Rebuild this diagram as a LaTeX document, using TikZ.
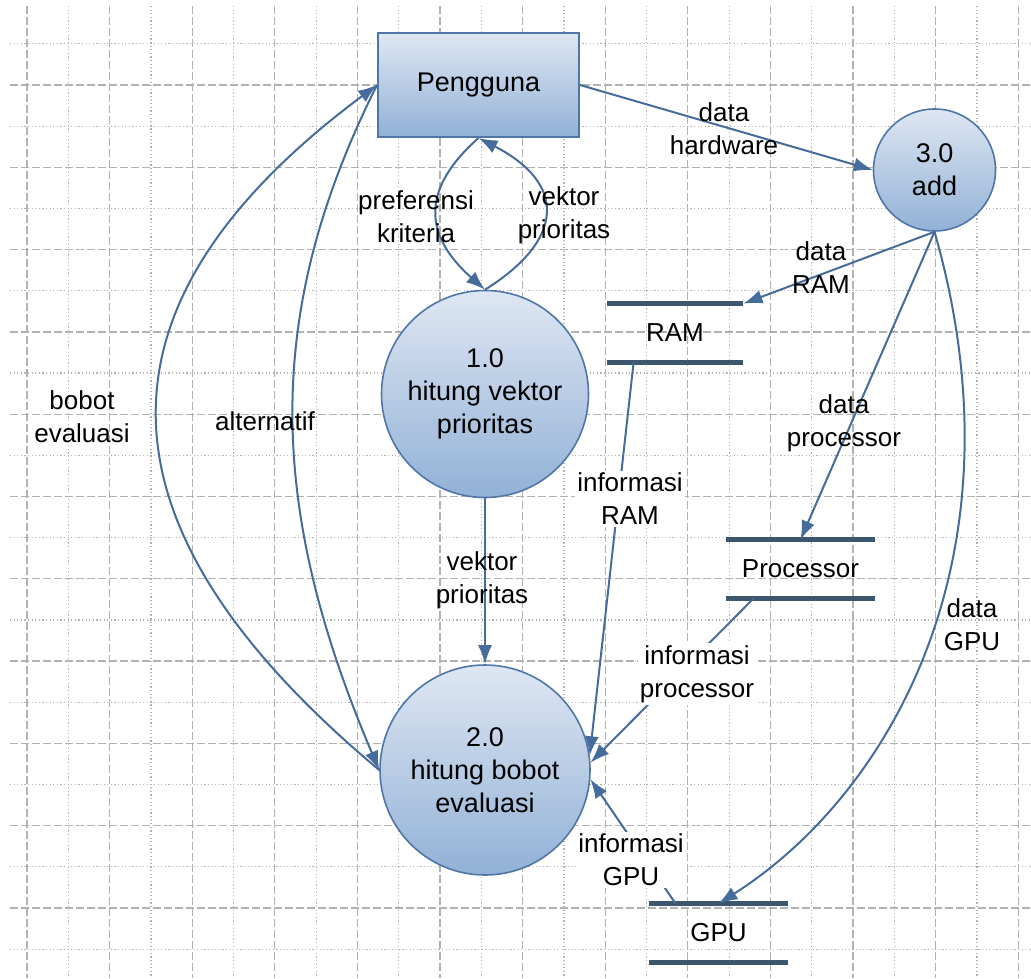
\documentclass[tikz,border=0pt]{standalone}
\usepackage{fontspec}
\setmainfont{Liberation Sans}
\usetikzlibrary{arrows.meta,calc}
\definecolor{gridc}{RGB}{178,178,178}
\definecolor{flowc}{RGB}{70,108,156}
\definecolor{storec}{RGB}{60,86,110}
\definecolor{bordc}{RGB}{80,118,168}
\definecolor{filltop}{RGB}{222,231,243}
\definecolor{fillbot}{RGB}{146,177,214}
\begin{document}
\begin{tikzpicture}[x=0.5pt,y=-0.5pt,
  every node/.style={font=\fontsize{13}{16.5}\selectfont, align=center, text=black},
  major/.style={draw=gridc, line width=0.65pt, dash pattern=on 4pt off 1.5pt},
  minor/.style={draw=gridc, line width=0.6pt, dash pattern=on 0.6pt off 1.2pt},
  flow/.style={draw=flowc, line width=1pt, -{Latex[length=9.5pt,width=7pt]}},
  proc/.style={circle, draw=bordc, line width=0.8pt, top color=filltop, bottom color=fillbot, inner sep=0pt, font=\fontsize{13.5}{16.5}\selectfont},
  ent/.style={rectangle, draw=bordc, line width=1pt, top color=filltop, bottom color=fillbot, minimum width=100.5pt, minimum height=52pt, font=\fontsize{13.5}{16.5}\selectfont},
  store/.style={minimum width=#1, minimum height=29pt, inner sep=0pt},
  storeline/.style={draw=storec, line width=2.5pt},
  lbl/.style={inner sep=1pt},
  wlbl/.style={fill=white, inner sep=1pt}
]
\useasboundingbox (0,0) rectangle (1031,978);
\fill[white] (0,0) rectangle (1031,978);
% grid
\foreach \i in {0,...,11} \draw[minor] ({68.3+82.6*\i},6) -- ({68.3+82.6*\i},978);
\foreach \j in {0,...,11} \draw[minor] (10,{43.85+82.3*\j}) -- (1031,{43.85+82.3*\j});
\foreach \i in {0,...,12} \draw[major] ({27+82.6*\i},6) -- ({27+82.6*\i},978);
\foreach \j in {0,...,10} \draw[major] (10,{85+82.3*\j}) -- (1031,{85+82.3*\j});

% nodes
\node[ent] (peng) at (478.5,85) {Pengguna};
\node[proc, minimum size=61pt] (c3) at (934.5,170) {3.0\\add};
\node[proc, minimum size=103.5pt] (c1) at (485,394) {1.0\\hitung vektor\\prioritas};
\node[proc, minimum size=105pt] (c2) at (485,770) {2.0\\hitung bobot\\evaluasi};

\node[store=68pt] (ram) at (675,333) {RAM};
\node[store=74.5pt] (prc) at (800.5,569) {Processor};
\node[store=69.5pt] (gpu) at (718.5,933) {GPU};
\foreach \s in {ram,prc,gpu} {
  \draw[storeline] (\s.north west) -- (\s.north east);
  \draw[storeline] (\s.south west) -- (\s.south east);
}

% connectors
\draw[flow] (peng.east) -- (c3.west);
\draw[flow] (peng.south) .. controls (422,188) and (422,234) .. (c1.north);
\draw[flow] (c1.north) .. controls (566,239) and (566,183) .. (peng.south);
\draw[flow] (c2.west) .. controls (80,520) and (88,300) .. (peng.west);
\draw[flow] (peng.west) .. controls (265,309) and (265,502) .. (c2.west);
\draw[flow] (c1.south) -- (c2.north);
\draw[flow] (c3.south) -- (ram.north east);
\draw[flow] (c3.south) -- (prc.north);
\draw[flow] (c3.south) .. controls (1028,558) and (888,796) .. (gpu.north);
\draw[flow] ($(ram.south west)+(27,0)$) -- (c2.8);
\draw[flow] ($(prc.south west)+(28,0)$) -- (c2.4);
\draw[flow] ($(gpu.north west)+(27,0)$) -- (c2.-5);

% labels
\node[lbl] (l1) at (724,129) {data\\hardware};
\node[lbl] (l2) at (416,217) {preferensi\\kriteria};
\node[lbl] (l3) at (564,215) {vektor\\prioritas};
\node[lbl] (l4) at (821,268) {data\\RAM};
\node[lbl] (l5) at (82,417) {bobot\\evaluasi};
\node[lbl] (l6) at (265,421) {alternatif};
\node[lbl] (l7) at (482,580) {vektor\\prioritas};
\node[lbl] (l8) at (844,423) {data\\processor};
\node[wlbl] (l9) at (630,499) {informasi\\RAM};
\node[lbl] (l10) at (972,625) {data\\GPU};
\node[wlbl] (l11) at (697,674) {informasi\\processor};
\node[wlbl] (l12) at (631,860) {informasi\\GPU};
\end{tikzpicture}
\end{document}
